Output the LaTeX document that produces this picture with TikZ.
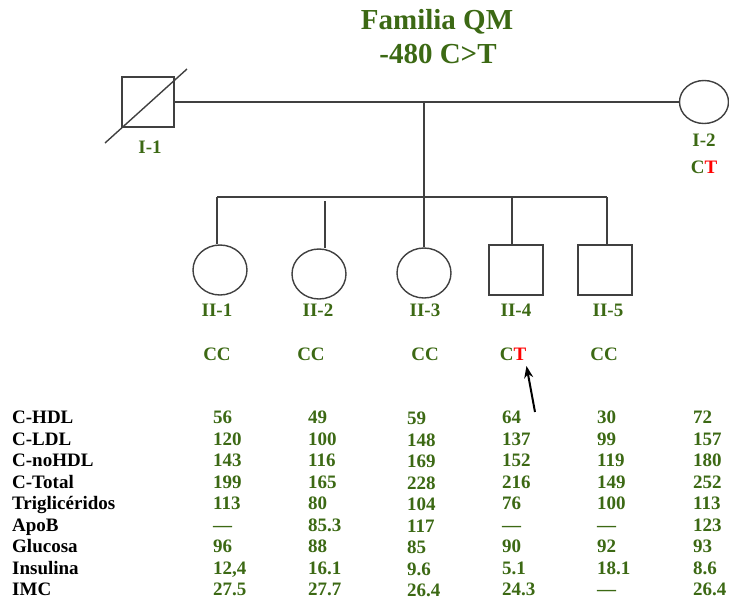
\documentclass[tikz,border=0pt]{standalone}
\usepackage{fontspec}
\setmainfont{Liberation Serif}
\usetikzlibrary{shapes.geometric,arrows.meta}
\definecolor{pgreen}{RGB}{60,105,20}
\begin{document}
\begin{tikzpicture}[x=1pt,y=-1pt,
  line/.style={draw=black!75,line width=1.4pt},
  male/.style={line, rectangle, minimum width=52pt, minimum height=50pt, inner sep=0pt},
  female/.style={line, ellipse, minimum width=54pt, minimum height=50pt, inner sep=0pt},
  lab/.style={text=pgreen, font=\fontsize{19}{22}\selectfont\bfseries, inner sep=0pt},
  ttl/.style={text=pgreen, font=\fontsize{29}{32}\selectfont\bfseries, inner sep=0pt},
  rowlab/.style={text=black, font=\fontsize{19}{22}\selectfont\bfseries, inner sep=0pt, anchor=base west},
  val/.style={text=pgreen, font=\fontsize{19}{22}\selectfont\bfseries, inner sep=0pt, anchor=base west}]
\useasboundingbox (0,0) rectangle (729,600);
% title
\node[ttl] (t1) at (437,22) {Familia QM};
\node[ttl] (t2) at (438,54) {-480 C>T};
% generation I
\node[male] (I1) at (148,102) {};
\node[female, minimum width=49pt, minimum height=43pt] (I2) at (704,102) {};
\coordinate (d1) at (105,143);
\coordinate (d2) at (187,69);
\draw[line] (d1) -- (d2);
\draw[line] (I1.east) -- (I2.west);
\node[lab] (lI1) at (150,147) {I-1};
\node[lab] (lI2) at (704,140) {I-2};
\node[lab] (gI2) at (704,167) {C\textcolor{red}{T}};
% descent
\coordinate (m) at (424,102);
\coordinate (s) at (424,197);
\coordinate (sL) at (217,197);
\coordinate (sR) at (607,197);
\draw[line] (m) -- (s);
\draw[line] (sL) -- (sR);
% generation II
\node[female] (II1) at (220,270) {};
\node[female] (II2) at (319,274) {};
\node[female] (II3) at (424,273) {};
\node[male, minimum width=54pt] (II4) at (516,270) {};
\node[male, minimum width=54pt] (II5) at (605,270) {};
\coordinate (c2) at (325,201);
\coordinate (c4) at (512,197);
\draw[line] (sL) -- (sL |- II1.north);
\draw[line] (c2) -- (c2 |- II2.north);
\draw[line] (s) -- (II3.north);
\draw[line] (c4) -- (c4 |- II4.north);
\draw[line] (sR) -- (sR |- II5.north);
\node[lab] (lII1) at (217,310) {II-1};
\node[lab] (lII2) at (318,310) {II-2};
\node[lab] (lII3) at (425,310) {II-3};
\node[lab] (lII4) at (516,310) {II-4};
\node[lab] (lII5) at (608,310) {II-5};
\node[lab] (gII1) at (217,354) {CC};
\node[lab] (gII2) at (311,354) {CC};
\node[lab] (gII3) at (425,354) {CC};
\node[lab] (gII4) at (513,354) {C\textcolor{red}{T}};
\node[lab] (gII5) at (604,354) {CC};
% proband arrow
\coordinate (arrtail) at (535,412);
\coordinate (arrtip) at (526.5,366);
\draw[-{Stealth[length=12pt,width=9pt]}, line width=2pt, black] (arrtail) -- (arrtip);
% table
\foreach \lab/\a/\b/\c/\d/\e/\f [count=\i] in {
  C-HDL/56/49/59/64/30/72,
  C-LDL/120/100/148/137/99/157,
  C-noHDL/143/116/169/152/119/180,
  C-Total/199/165/228/216/149/252,
  Triglicéridos/113/80/104/76/100/113,
  ApoB/---/85.3/117/---/---/123,
  Glucosa/96/88/85/90/92/93,
  {Insulina/12{,}4/16.1/9.6/5.1/18.1/8.6},
  IMC/27.5/27.7/26.4/24.3/---/26.4}{
  \pgfmathsetmacro{\yy}{423.5+21.5*(\i-1)}
  \node[rowlab] (r\i) at (12,\yy) {\lab};
  \node[val] (v\i a) at (213,\yy) {\a};
  \node[val] (v\i b) at (308,\yy) {\b};
  \node[val] (v\i c) at (407,\yy+1) {\c};
  \node[val] (v\i d) at (502,\yy) {\d};
  \node[val] (v\i e) at (597,\yy) {\e};
  \node[val] (v\i f) at (693,\yy) {\f};
}
\end{tikzpicture}
\end{document}
